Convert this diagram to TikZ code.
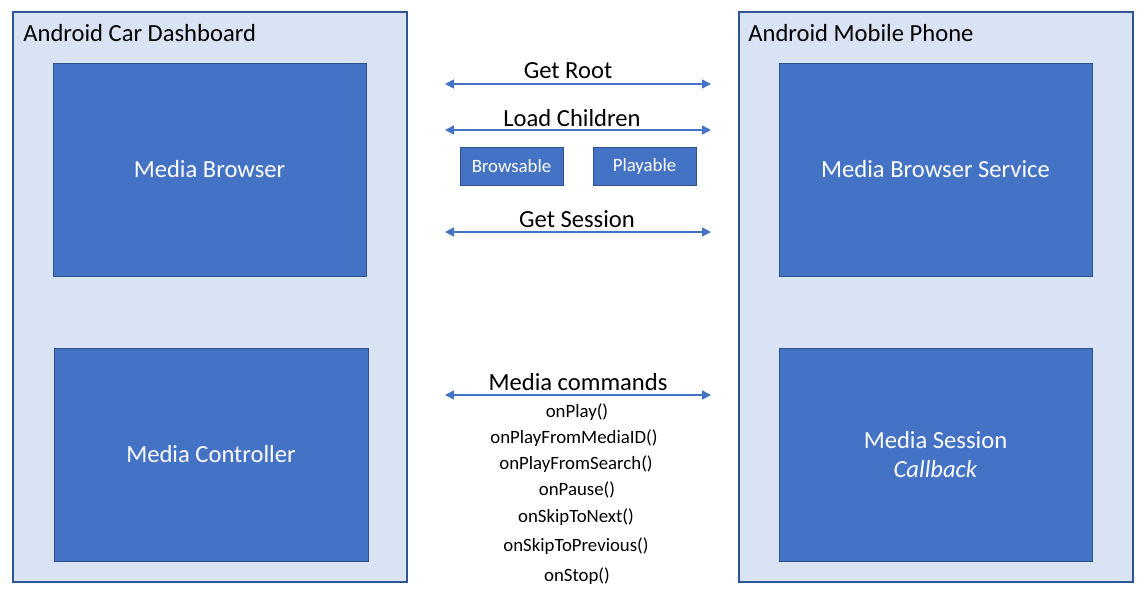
\documentclass[tikz,border=0pt]{standalone}
\usepackage{fontspec}
\setmainfont{Carlito}
\usetikzlibrary{arrows.meta}

\definecolor{panelfill}{HTML}{DAE3F3}
\definecolor{panelline}{HTML}{2F5597}
\definecolor{boxfill}{HTML}{4472C4}
\definecolor{boxline}{HTML}{2F528F}

\tikzset{
  panel/.style={draw=panelline,line width=0.8pt,fill=panelfill},
  block/.style={draw=boxline,line width=0.5pt,fill=boxfill},
  bigtext/.style={font=\fontsize{14}{17}\selectfont,inner sep=0pt,align=center},
  smalltext/.style={font=\fontsize{10.7}{13}\selectfont,inner sep=0pt,align=center},
  link/.style={draw=boxfill,line width=0.85pt,
    {Triangle[length=5pt,width=5pt]}-{Triangle[length=5pt,width=5pt]}}
}

\begin{document}
\begin{tikzpicture}[x=0.02cm,y=-0.02cm]
    \useasboundingbox[fill=white] (0,0) rectangle (1148,595);

    % car side
    \draw[panel] (13,12) rectangle (407,582);
    \node[bigtext,anchor=west] (cartitle) at (23,33) {Android Car Dashboard};
    \draw[block] (53,63) rectangle (366,276) node[midway,bigtext,
      text=white] (browser) {Media Browser};
    \draw[block] (54,348) rectangle (368,561) node[midway,bigtext,
      text=white] (controller) {Media Controller};

    % phone side
    \draw[panel] (739,12) rectangle (1133,582);
    \node[bigtext,anchor=west] (phonetitle) at (748,33) {Android Mobile Phone};
    \draw[block] (779,63) rectangle (1092,276) node[midway,bigtext,
      text=white] (service) {Media Browser Service};
    \draw[block] (779,348) rectangle (1092,561) node[midway,bigtext,
      text=white] (session) {Media Session\\\textit{Callback}};

    % messages
    \coordinate (rootL) at (445,84);
    \coordinate (rootR) at (711,84);
    \draw[link] (rootL) -- (rootR);
    \node[bigtext] (getroot) at (568,71) {Get Root};

    \coordinate (childL) at (445,130);
    \coordinate (childR) at (711,130);
    \draw[link] (childL) -- (childR);
    \node[bigtext] (loadchildren) at (572,118) {Load Children};

    \draw[block] (460,147) rectangle (563,185) node[midway,smalltext,
      text=white] (browsable) {Browsable};
    \draw[block] (593,147) rectangle (696,185) node[midway,smalltext,
      text=white] (playable) {Playable};

    \coordinate (sessL) at (445,232);
    \coordinate (sessR) at (711,232);
    \draw[link] (sessL) -- (sessR);
    \node[bigtext] (getsession) at (577,219) {Get Session};

    \coordinate (cmdL) at (445,395);
    \coordinate (cmdR) at (711,395);
    \draw[link] (cmdL) -- (cmdR);
    \node[bigtext] (commands) at (578,382) {Media commands};

    \node[smalltext] (onplay) at (577,412) {onPlay()};
    \node[smalltext] (onplaymedia) at (574,438) {onPlayFromMediaID()};
    \node[smalltext] (onplaysearch) at (576,464) {onPlayFromSearch()};
    \node[smalltext] (onpause) at (577,490) {onPause()};
    \node[smalltext] (onnext) at (576,517) {onSkipToNext()};
    \node[smalltext] (onprev) at (576,546) {onSkipToPrevious()};
    \node[smalltext] (onstop) at (577,576) {onStop()};
\end{tikzpicture}
\end{document}
